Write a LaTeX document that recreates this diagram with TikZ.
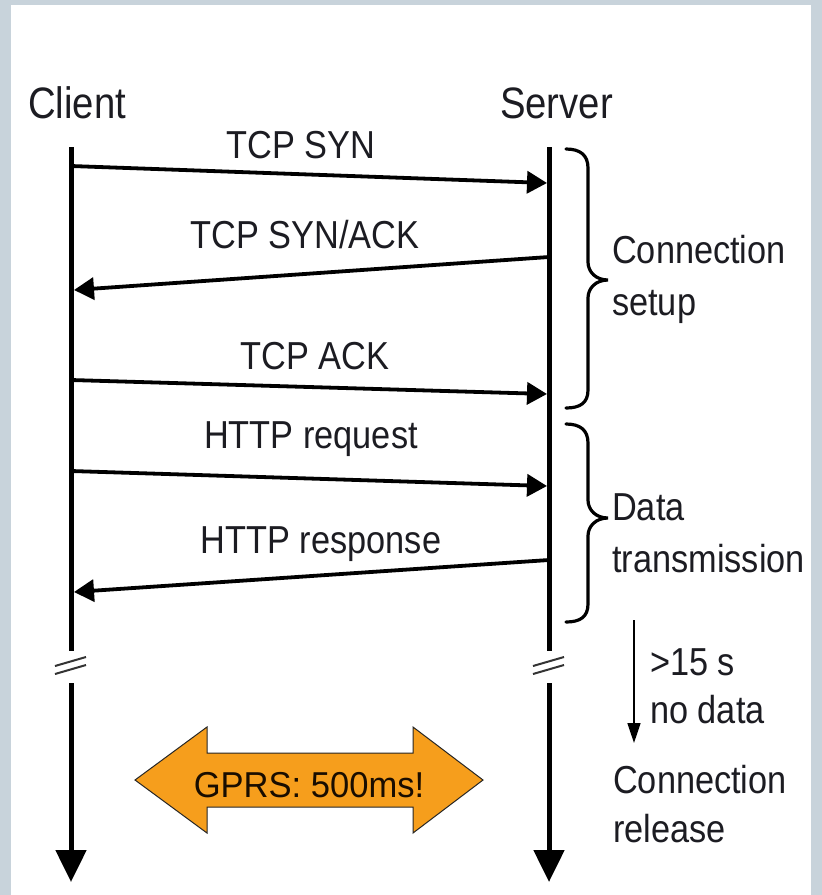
\documentclass[tikz,border=0pt]{standalone}
\usepackage{fontspec}
\setmainfont{Liberation Sans}
\usetikzlibrary{arrows.meta}
\definecolor{framegray}{RGB}{200,211,219}
\definecolor{gprsorange}{RGB}{246,158,28}
\definecolor{txt}{RGB}{28,28,34}
\begin{document}
\begin{tikzpicture}[x=1pt,y=-1pt,
  head/.style={font=\fontsize{44}{50}\selectfont, text=txt, inner sep=0pt, xscale=0.87},
  lbl/.style={font=\fontsize{39}{44}\selectfont, text=txt, inner sep=0pt, xscale=0.88},
  lifeline/.style={line width=5pt},
  lifeend/.style={line width=5pt, -{Triangle[length=32pt,width=30pt]}},
  msg/.style={line width=3.8pt, -{Triangle[length=20pt,width=22pt]}},
  brk/.style={line width=2pt, black!80},
  bracepath/.style={line width=3.2pt, line cap=round},
  thinarrow/.style={line width=1.6pt, -{Triangle[length=20pt,width=13pt]}},
  gprsbox/.style={fill=gprsorange, draw=black!85, line width=1pt, line join=miter}
]
\useasboundingbox (0,0) rectangle (822,895);
\fill[framegray] (0,0) rectangle (822,895);
\fill[white] (11,5) rectangle (811,895);

% headers
\node[head, anchor=base west] (client) at (28,118) {Client};
\node[head, anchor=base west] (server) at (500,118) {Server};

% lifeline coordinates
\coordinate (ctop) at (71,147);
\coordinate (cbrkA) at (71,651);
\coordinate (cbrkB) at (71,683);
\coordinate (cbot) at (71,882);
\coordinate (stop) at (549,147);
\coordinate (sbrkA) at (549,651);
\coordinate (sbrkB) at (549,683);
\coordinate (sbot) at (549,882);

\draw[lifeline] (ctop) -- (cbrkA);
\draw[lifeend] (cbrkB) -- (cbot);
\draw[lifeline] (stop) -- (sbrkA);
\draw[lifeend] (sbrkB) -- (sbot);

% break marks
\draw[brk] (55,666) -- (86,657);
\draw[brk] (55,674) -- (86,665);
\draw[brk] (533,666) -- (564,657);
\draw[brk] (533,674) -- (564,665);

% message coordinates
\coordinate (m1a) at (71,166);  \coordinate (m1b) at (547,183);
\coordinate (m2a) at (549,257); \coordinate (m2b) at (74,290);
\coordinate (m3a) at (71,380);  \coordinate (m3b) at (547,394);
\coordinate (m4a) at (71,471);  \coordinate (m4b) at (547,486);
\coordinate (m5a) at (549,560); \coordinate (m5b) at (74,592);

\draw[msg] (m1a) -- (m1b);
\draw[msg] (m2a) -- (m2b);
\draw[msg] (m3a) -- (m3b);
\draw[msg] (m4a) -- (m4b);
\draw[msg] (m5a) -- (m5b);

\node[lbl, anchor=base] (l1) at (301,158) {TCP SYN};
\node[lbl, anchor=base] (l2) at (305,248) {TCP SYN/ACK};
\node[lbl, anchor=base] (l3) at (315,369) {TCP ACK};
\node[lbl, anchor=base] (l4) at (311,448) {HTTP request};
\node[lbl, anchor=base] (l5) at (321,553) {HTTP response};

% braces
\draw[bracepath] (566,149) .. controls (580,149) and (588,155) .. (588,168)
  -- (588,262) .. controls (588,272) and (596,280) .. (608,280)
  .. controls (596,280) and (588,288) .. (588,298)
  -- (588,390) .. controls (588,403) and (580,408) .. (566,408);
\draw[bracepath] (566,424) .. controls (580,424) and (588,430) .. (588,443)
  -- (588,500) .. controls (588,510) and (596,518) .. (608,518)
  .. controls (596,518) and (588,526) .. (588,536)
  -- (588,604) .. controls (588,617) and (580,622) .. (566,622);

\node[lbl, anchor=base west] (cs1) at (612,263) {Connection};
\node[lbl, anchor=base west] (cs2) at (612,315) {setup};
\node[lbl, anchor=base west] (dt1) at (612,520) {Data};
\node[lbl, anchor=base west] (dt2) at (612,572) {transmission};

% timeout arrow
\coordinate (tA) at (634,620);
\coordinate (tB) at (634,743);
\draw[thinarrow] (tA) -- (tB);
\node[lbl, anchor=base west] (to1) at (650,675) {>15 s};
\node[lbl, anchor=base west] (to2) at (650,723) {no data};
\node[lbl, anchor=base west] (cr1) at (613,793) {Connection};
\node[lbl, anchor=base west] (cr2) at (613,842) {release};

% GPRS double arrow
\draw[gprsbox] (135,780) -- (207,727) -- (207,753) -- (413,753) -- (413,727)
  -- (483,780) -- (413,833) -- (413,807) -- (207,807) -- (207,833) -- cycle;
\node[font=\fontsize{36}{40}\selectfont, text=black!90!orange, inner sep=0pt, xscale=0.96, anchor=base] (gprs) at (309,797) {GPRS: 500ms!};
\end{tikzpicture}
\end{document}
